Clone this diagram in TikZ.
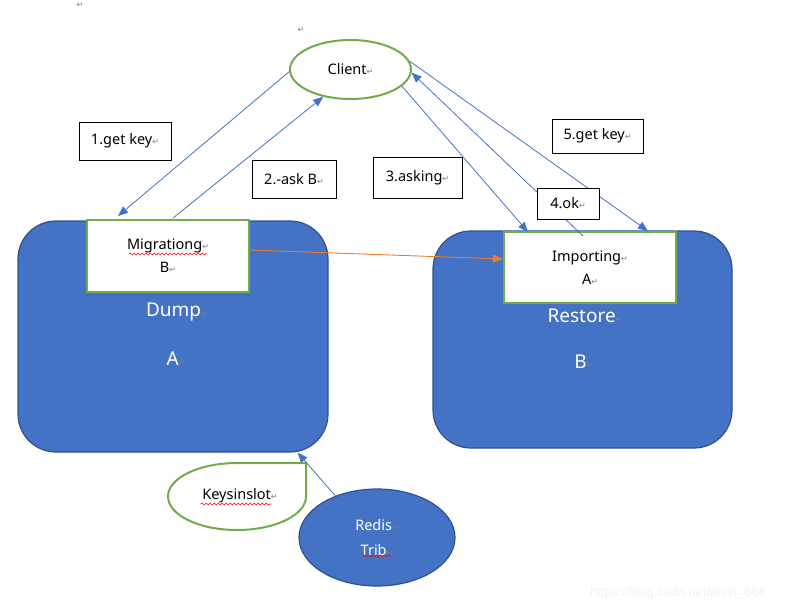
\documentclass[tikz,border=0pt]{standalone}
\usepackage{fontspec}
\setmainfont{Noto Sans}
\newfontfamily\symfnt{DejaVu Sans}
\newfontfamily\wmfnt{Liberation Sans}
\usetikzlibrary{arrows.meta,shapes.geometric,decorations.pathmorphing}
\definecolor{wblue}{HTML}{4472C4}
\definecolor{wdark}{HTML}{2F528F}
\definecolor{wgreen}{HTML}{70AD47}
\definecolor{worange}{HTML}{ED7D31}
\definecolor{pmgray}{HTML}{7F7F7F}
\newcommand{\pmk}{{\symfnt\fontsize{8}{8}\selectfont\color{pmgray}↵}}
\tikzset{
  bigbox/.style={draw=wdark,line width=1.2pt,fill=wblue,rounded corners=38pt,inner sep=0pt},
  greenbox/.style={draw=wgreen,line width=2pt,fill=white,inner sep=0pt,align=center,
    font=\fontsize{14.5}{23}\selectfont},
  lbl/.style={draw=black,line width=0.8pt,fill=white,inner sep=0pt,
    font=\fontsize{14.5}{16}\selectfont},
  bigtxt/.style={text=white,font=\fontsize{19}{21}\selectfont,inner sep=0pt},
  bluearrow/.style={draw=wblue,line width=0.8pt,-{Triangle[length=10pt,width=8pt]}},
  orangearrow/.style={draw=worange,line width=0.9pt,-{Triangle[length=10pt,width=8pt]}},
  squig/.style={draw=red,line width=0.6pt,decorate,decoration={snake,amplitude=1pt,segment length=4pt}}
}
\begin{document}
\begin{tikzpicture}[x=1pt,y=-1pt]
\useasboundingbox[fill=white] (0,0) rectangle (795,611);
% stray paragraph marks
\node[inner sep=0pt] (pm1) at (80,5) {\pmk};
\node[inner sep=0pt] (pm2) at (301,30) {\pmk};
% big rounded boxes
\node[bigbox,minimum width=310pt,minimum height=231pt] (dump) at (173,336.5) {};
\node[bigbox,minimum width=299pt,minimum height=217pt] (rest) at (582.5,339.5) {};
% inner boxes
\node[greenbox,minimum width=162pt,minimum height=72pt] (mig) at (168,256) {Migrationg\pmk\\B\pmk};
\node[greenbox,minimum width=172pt,minimum height=71pt] (imp) at (590,267.5) {Importing\pmk\\A\pmk};
\draw[squig] (129,254) -- (207,254);
% big texts
\node[bigtxt] (dumpt) at (177,312) {Dump\pmk};
\node[bigtxt] (dumpa) at (176,359) {A\pmk};
\node[bigtxt] (restt) at (585,316) {Restore\pmk};
\node[bigtxt] (restb) at (584,362) {B\pmk};
% client
\node[ellipse,draw=wgreen,line width=2pt,fill=white,minimum width=121pt,minimum height=59pt,inner sep=0pt,
  font=\fontsize{14.5}{16}\selectfont] (client) at (350.5,69.5) {Client\pmk};
% keysinslot teardrop
\draw[wgreen,line width=2pt,fill=white] (306,463) -- (306,496.5)
  arc[start angle=0,end angle=-270,x radius=69pt,y radius=33.5pt] -- cycle;
\node[inner sep=0pt,font=\fontsize{14.5}{16}\selectfont] (keys) at (240,496) {Keysinslot\pmk};
\draw[squig] (201,504) -- (271,504);
% redis trib
\node[ellipse,draw=wdark,line width=1.2pt,fill=wblue,minimum width=156pt,minimum height=97pt,inner sep=0pt,
  text=white,align=center,font=\fontsize{14.5}{25}\selectfont] (redis) at (377,537.5) {Redis\pmk\\Trib\pmk};
\draw[squig] (363,556) -- (391,556);
% arrows
\draw[bluearrow] (client.182) -- ([xshift=-50pt,yshift=3pt]mig.north);
\draw[bluearrow] ([xshift=5pt,yshift=1pt]mig.north) -- (client.225);
\draw[bluearrow] (client.342) -- ([xshift=-62pt,yshift=-1pt]imp.north);
\draw[bluearrow] ([xshift=-7pt,yshift=-5pt]imp.north) -- (client.357);
\draw[bluearrow] (client.8) -- ([xshift=58pt]imp.north);
\draw[orangearrow] ([yshift=6pt]mig.east) -- ([yshift=8.5pt]imp.west);
\draw[bluearrow] (redis.135) -- ([xshift=-31pt]dump.south east);
% label boxes
\node[lbl,minimum width=92pt,minimum height=38pt] (l1) at (125,141) {1.get key\pmk};
\node[lbl,minimum width=84pt,minimum height=38pt] (l2) at (294,179) {2.-ask B\pmk};
\node[lbl,minimum width=89pt,minimum height=41pt] (l3) at (417.5,177.5) {3.asking\pmk};
\node[lbl,minimum width=62pt,minimum height=31pt] (l4) at (568,203.5) {4.ok\pmk};
\node[lbl,minimum width=91pt,minimum height=34pt] (l5) at (597.5,136) {5.get key\pmk};
% watermark
\node[inner sep=0pt,text=black!5,font=\wmfnt\fontsize{13}{15}\selectfont] (wm) at (678,593) {https://blog.csdn.net/alvin\_666};
\end{tikzpicture}
\end{document}
